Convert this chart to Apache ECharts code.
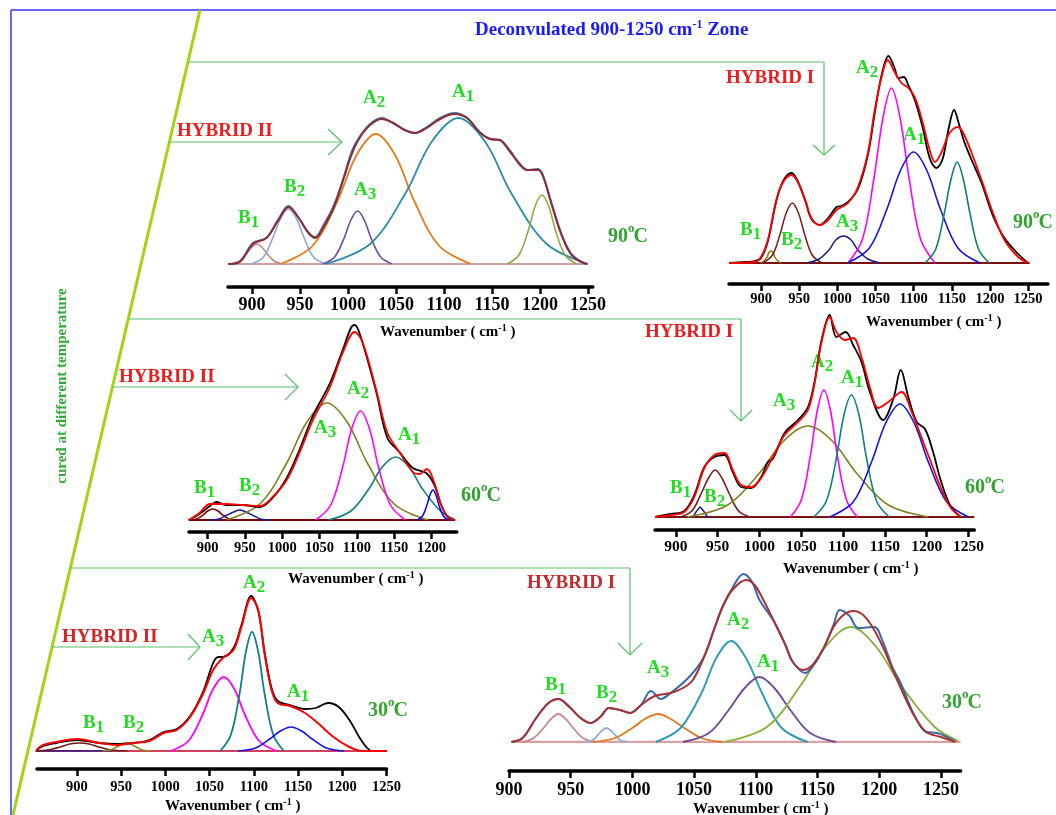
<!DOCTYPE html>
<html>
<head>
<meta charset="utf-8">
<script src="https://cdn.jsdelivr.net/npm/echarts@6/dist/echarts.min.js"></script>
<style>
  html, body { margin: 0; padding: 0; background: #fff; }
  #chart { width: 1056px; height: 815px; }
</style>
</head>
<body>
<div id="chart"></div>
<script>
// tick labels
const wnTicks = [900, 950, 1000, 1050, 1100, 1150, 1200, 1250];
const wnTicksShort = [900, 950, 1000, 1050, 1100, 1150, 1200];

// ---- HYBRID II, 90 C ----
const h2t90Obs = [[875,0],[887,2],[901,21],[915,26],[927,44],[938,58],[948,47],[959,31],[966,27],[974,38],[985,58],[995,85],[1004,113],[1012,127],[1023,140],[1035,146],[1047,141],[1059,134],[1070,131],[1082,137],[1096,146],[1111,151],[1124,146],[1137,132],[1148,125],[1158,124],[1169,113],[1179,99],[1187,94],[1198,95],[1203,89],[1211,64],[1222,31],[1232,11],[1243,2],[1249,0]];
const h2t90Fit = [[875,0],[887,2],[901,20],[915,26],[927,43],[938,57],[948,47],[959,31],[966,26],[974,36],[985,56],[995,84],[1004,110],[1012,126],[1023,139],[1035,145],[1047,141],[1059,134],[1070,131],[1082,136],[1096,145],[1111,150],[1124,146],[1137,132],[1148,125],[1158,124],[1169,112],[1179,100],[1187,94],[1198,94],[1203,88],[1211,63],[1222,30],[1232,10],[1243,2],[1249,0]];
const h2t90B1 = [[878,0],[887,3],[894,10],[900,17],[905,20],[910,17],[916,10],[923,3],[932,0]];
const h2t90B2 = [[899,0],[912,7],[922,27],[930,46],[938,55],[946,46],[954,27],[964,7],[977,0]];
const h2t90A3 = [[974,0],[986,7],[996,26],[1003,44],[1010,53],[1017,44],[1024,26],[1034,7],[1046,0]];
const h2t90A2 = [[930,0],[963,18],[989,63],[1009,109],[1029,130],[1049,109],[1069,63],[1095,18],[1128,0]];
const h2t90A1 = [[977,0],[1023,20],[1060,71],[1087,122],[1115,146],[1143,122],[1170,71],[1207,20],[1250,0]];
const h2t90C = [[1166,0],[1178,9],[1188,34],[1195,58],[1202,69],[1209,58],[1216,34],[1226,9],[1238,0]];

// ---- HYBRID I, 90 C ----
const h1t90Obs = [[858,0],[880,1],[892,2],[900,5],[909,22],[920,62],[929,82],[940,90],[948,82],[958,62],[966,44],[977,38],[988,45],[999,56],[1005,57],[1014,61],[1027,74],[1040,108],[1049,150],[1058,188],[1067,207],[1075,195],[1080,185],[1087,186],[1093,178],[1102,162],[1112,135],[1121,105],[1130,95],[1138,104],[1146,135],[1153,153],[1159,140],[1166,122],[1176,103],[1189,80],[1204,47],[1219,25],[1237,9],[1250,0]];
const h1t90Fit = [[858,0],[892,1],[900,6],[909,23],[920,63],[929,81],[940,88],[948,81],[958,63],[966,45],[977,38],[988,43],[999,53],[1014,60],[1027,76],[1040,110],[1049,153],[1058,186],[1066,203],[1075,191],[1084,180],[1093,175],[1102,165],[1112,140],[1121,113],[1128,101],[1136,110],[1147,130],[1158,136],[1165,130],[1176,110],[1189,83],[1204,50],[1219,23],[1237,6],[1250,0]];
const h1t90B1 = [[900,0],[904,2],[908,6],[910,10],[913,12],[916,10],[918,6],[922,2],[926,0]];
const h1t90B2 = [[902,0],[915,8],[925,29],[933,50],[941,60],[949,50],[957,29],[967,8],[980,0]];
const h1t90A3 = [[960,0],[976,4],[989,13],[998,23],[1008,27],[1018,23],[1027,13],[1040,4],[1056,0]];
const h1t90A2 = [[1014,0],[1033,24],[1048,85],[1060,146],[1071,175],[1082,146],[1094,85],[1109,24],[1128,0]];
const h1t90A1 = [[1013,0],[1042,15],[1065,54],[1083,93],[1100,111],[1117,93],[1135,54],[1158,15],[1187,0]];
const h1t90C = [[1115,0],[1129,14],[1140,49],[1149,84],[1157,101],[1165,84],[1174,49],[1185,14],[1199,0]];

// ---- HYBRID II, 60 C ----
const h2t60Obs = [[875,0],[889,6],[903,14],[912,18],[925,15],[947,15],[970,13],[987,22],[1006,42],[1023,70],[1041,104],[1064,137],[1081,170],[1092,192],[1097,195],[1104,186],[1126,128],[1141,82],[1157,68],[1175,52],[1193,47],[1204,35],[1213,15],[1222,3],[1231,0]];
const h2t60Fit = [[875,0],[889,7],[903,16],[925,16],[947,15],[970,14],[987,23],[1006,40],[1023,67],[1041,100],[1064,133],[1081,167],[1097,188],[1108,177],[1126,130],[1141,87],[1157,68],[1175,48],[1184,46],[1194,51],[1204,37],[1213,15],[1222,3],[1231,0]];
const h2t60B1 = [[874,0],[885,1],[894,5],[900,9],[907,11],[914,9],[920,5],[929,1],[940,0]];
const h2t60B2 = [[901,0],[915,1],[926,5],[935,8],[943,10],[951,8],[960,5],[971,1],[985,0]];
const h2t60A3 = [[925,0],[970,16],[1006,57],[1033,98],[1060,117],[1087,98],[1114,57],[1150,16],[1195,0]];
const h2t60A2 = [[1045,0],[1065,15],[1081,53],[1093,91],[1105,109],[1117,91],[1129,53],[1145,15],[1165,0]];
const h2t60A1 = [[1062,0],[1092,9],[1116,31],[1134,53],[1152,63],[1170,53],[1188,31],[1212,9],[1230,1]];
const h2t60C = [[1181,0],[1188,4],[1194,15],[1198,25],[1202,30],[1206,25],[1210,15],[1216,4],[1223,0]];

// ---- HYBRID I, 60 C ----
const h1t60Obs = [[875,0],[894,3],[910,6],[922,22],[934,50],[946,60],[958,62],[968,45],[978,30],[990,29],[1002,40],[1010,55],[1016,58],[1030,84],[1046,97],[1058,110],[1066,136],[1074,176],[1084,202],[1092,180],[1103,185],[1112,172],[1122,155],[1132,125],[1148,97],[1160,118],[1169,147],[1178,120],[1188,95],[1198,88],[1208,64],[1217,36],[1229,10],[1241,0]];
const h1t60Fit = [[875,0],[894,2],[910,5],[922,20],[934,49],[946,62],[958,64],[968,47],[978,32],[990,30],[1002,39],[1016,60],[1030,82],[1046,95],[1058,107],[1066,134],[1074,174],[1084,200],[1092,185],[1102,177],[1112,179],[1122,160],[1132,130],[1142,109],[1154,115],[1170,125],[1182,105],[1194,79],[1205,55],[1217,29],[1229,9],[1241,0]];
const h1t60B1 = [[917,0],[921,1],[924,5],[927,8],[929,10],[931,8],[934,5],[937,1],[941,0]];
const h1t60B2 = [[905,0],[919,6],[930,23],[939,39],[947,47],[955,39],[964,23],[975,6],[989,0]];
const h1t60A3 = [[914,0],[962,12],[1000,44],[1029,76],[1058,91],[1087,76],[1116,44],[1154,12],[1202,0]];
const h1t60A2 = [[1037,0],[1050,17],[1061,62],[1069,106],[1077,127],[1085,106],[1093,62],[1104,17],[1117,0]];
const h1t60A1 = [[1065,0],[1080,16],[1092,59],[1101,102],[1110,122],[1119,102],[1128,59],[1140,16],[1155,0]];
const h1t60C = [[1084,0],[1112,15],[1134,55],[1151,94],[1168,113],[1185,94],[1202,55],[1224,15],[1250,0]];

// ---- HYBRID II, 30 C ----
const h2t30Obs = [[853,0],[862,5],[877,8],[900,11],[926,8],[945,7],[964,8],[982,11],[998,19],[1013,22],[1028,35],[1043,60],[1054,88],[1060,94],[1065,94],[1077,103],[1086,126],[1097,155],[1105,140],[1112,100],[1120,63],[1127,50],[1141,46],[1158,42],[1170,43],[1184,48],[1196,44],[1208,31],[1219,14],[1228,3],[1234,0],[1250,0]];
const h2t30Fit = [[853,0],[862,6],[877,9],[900,12],[926,8],[945,6],[964,8],[982,10],[998,18],[1013,21],[1028,34],[1043,58],[1054,81],[1065,93],[1077,101],[1086,124],[1097,153],[1105,141],[1112,98],[1120,61],[1127,48],[1141,45],[1156,39],[1171,29],[1190,14],[1208,4],[1223,0],[1250,0]];
const h2t30B1 = [[855,0],[867,1],[881,4],[892,7],[903,8],[914,7],[925,4],[939,1],[957,0]];
const h2t30B2 = [[929,0],[938,1],[945,4],[951,7],[956,8],[961,7],[967,4],[974,1],[983,0]];
const h2t30A3 = [[1006,0],[1026,10],[1042,36],[1054,62],[1066,74],[1078,62],[1090,36],[1106,10],[1126,0]];
const h2t30A2 = [[1062,0],[1074,16],[1084,58],[1091,99],[1098,119],[1105,99],[1112,58],[1122,16],[1134,0]];
const h2t30A1 = [[1082,0],[1102,3],[1118,12],[1130,20],[1142,24],[1154,20],[1166,12],[1182,3],[1202,0]];

// ---- HYBRID I, 30 C ----
const h1t30Obs = [[902,0],[911,4],[922,24],[932,39],[940,43],[949,35],[958,24],[966,19],[974,25],[981,34],[990,32],[998,29],[1007,37],[1015,51],[1023,43],[1031,49],[1046,65],[1058,85],[1066,112],[1073,135],[1081,154],[1090,168],[1097,160],[1103,142],[1115,120],[1124,97],[1130,80],[1140,69],[1147,77],[1155,94],[1163,117],[1168,132],[1176,126],[1183,114],[1196,115],[1203,100],[1211,74],[1217,60],[1228,28],[1238,10],[1247,9],[1261,1]];
const h1t30Fit = [[902,0],[911,4],[922,24],[932,39],[940,43],[949,35],[958,24],[966,19],[974,25],[981,34],[990,32],[998,29],[1007,37],[1018,46],[1031,49],[1041,54],[1049,62],[1058,85],[1066,112],[1073,135],[1081,152],[1092,162],[1099,157],[1107,140],[1115,120],[1124,97],[1130,80],[1138,72],[1146,77],[1155,94],[1163,115],[1171,127],[1179,131],[1187,127],[1195,114],[1203,95],[1211,72],[1220,47],[1228,27],[1238,10],[1250,5],[1262,0]];
const h1t30B1 = [[911,0],[920,4],[928,14],[934,23],[940,28],[946,23],[952,14],[960,4],[969,0]];
const h1t30B2 = [[962,0],[968,2],[972,7],[976,12],[979,14],[982,12],[986,7],[990,2],[996,0]];
const h1t30A3 = [[968,0],[986,4],[1000,14],[1010,23],[1021,28],[1031,23],[1042,14],[1056,4],[1073,0]];
const h1t30A2 = [[1019,0],[1039,14],[1056,49],[1068,84],[1080,101],[1092,84],[1105,49],[1121,14],[1142,0]];
const h1t30A1 = [[1041,0],[1062,9],[1078,32],[1091,54],[1103,65],[1115,54],[1128,32],[1144,9],[1165,0]];
const h1t30C = [[1075,0],[1109,15],[1136,56],[1157,96],[1177,115],[1197,96],[1218,56],[1245,15],[1264,1]];

const H = 215;
const serif = 'Liberation Serif';

function baseLine(from, to) {
  return [[from, 0], [to, 0]];
}

const panels = [
  { left: 228, base: 264, axisY: 287, min: 875, max: 1255, scale: 0.96, ticks: wnTicks, size: 18, margin: 9,
    curves: [
      [baseLine(875, 1250), '#cfa0a0', 2],
      [h2t90B1, '#c48a8a', 1.6], [h2t90B2, '#8fa8d2', 1.6], [h2t90A3, '#6c4c9c', 1.6],
      [h2t90A2, '#e27c1e', 1.8], [h2t90A1, '#2d8bab', 1.8], [h2t90C, '#8caa3e', 1.6],
      [h2t90Obs, '#3f72b0', 2], [h2t90Fit, '#8e2e34', 2]
    ] },
  { left: 729, base: 263, axisY: 284, min: 858, max: 1276, scale: 0.763, ticks: wnTicks, size: 14.5, margin: 8,
    curves: [
      [baseLine(858, 1252), '#7a1212', 2],
      [h1t90B1, '#808000', 1.5], [h1t90B2, '#7a1e1e', 1.5], [h1t90A3, '#1c1c80', 1.5],
      [h1t90A2, '#ff00ff', 1.6], [h1t90A1, '#1414e6', 1.6], [h1t90C, '#0e7c7c', 1.6],
      [h1t90Obs, '#000000', 1.8], [h1t90Fit, '#ff0000', 1.8]
    ] },
  { left: 189, base: 520, axisY: 532, min: 875, max: 1234, scale: 0.746, ticks: wnTicksShort, size: 14.5, margin: 9,
    curves: [
      [baseLine(875, 1232), '#800000', 2],
      [h2t60B1, '#800000', 1.5], [h2t60B2, '#1a1a99', 1.5], [h2t60A3, '#7f7f1e', 1.6],
      [h2t60A2, '#ff00ff', 1.6], [h2t60A1, '#0f7f7f', 1.6], [h2t60C, '#0000ff', 1.5],
      [h2t60Obs, '#000000', 1.8], [h2t60Fit, '#ff0000', 1.8]
    ] },
  { left: 655, base: 517, axisY: 530, min: 875, max: 1257, scale: 0.836, ticks: wnTicks, size: 15.5, margin: 9,
    curves: [
      [baseLine(875, 1257), '#7a1212', 2],
      [h1t60B1, '#14148c', 1.5], [h1t60B2, '#7a1e1e', 1.6], [h1t60A3, '#808020', 1.6],
      [h1t60A2, '#ff00ff', 1.6], [h1t60A1, '#118080', 1.6], [h1t60C, '#1010f0', 1.6],
      [h1t60Obs, '#000000', 1.8], [h1t60Fit, '#ff0000', 1.8]
    ] },
  { left: 37, base: 751, axisY: 769, min: 855, max: 1250, scale: 0.885, ticks: wnTicks, size: 14.5, margin: 11,
    curves: [
      [baseLine(853, 1250), '#d04060', 2.2], [baseLine(855, 940), '#14148c', 1.6],
      [h2t30B1, '#6b1818', 1.6], [h2t30B2, '#8a8a1a', 1.6], [h2t30A3, '#ff00ff', 1.8],
      [h2t30A2, '#108080', 1.8], [h2t30A1, '#1010f0', 1.6],
      [h2t30Obs, '#000000', 1.8], [h2t30Fit, '#ff0000', 2]
    ] },
  { left: 509, base: 742, axisY: 771, min: 900, max: 1266, scale: 1.234, ticks: wnTicks, size: 18, margin: 10,
    curves: [
      [baseLine(902, 1266), '#dca0a0', 2.4],
      [h1t30B1, '#c88a8a', 1.8], [h1t30B2, '#94aedb', 1.8], [h1t30A3, '#e07a22', 1.8],
      [h1t30A2, '#2e9ab4', 1.9], [h1t30A1, '#6e4e96', 1.9], [h1t30C, '#88b03c', 1.9],
      [h1t30Obs, '#3a6aa8', 2], [h1t30Fit, '#a83232', 2]
    ] }
];

const grids = [], xAxes = [], yAxes = [], series = [];
panels.forEach((p, i) => {
  grids.push({ left: p.left, top: p.base - H, width: (p.max - p.min) * p.scale, height: H });
  xAxes.push({
    type: 'value', gridIndex: i, min: p.min, max: p.max, position: 'bottom',
    offset: p.axisY - p.base,
    splitLine: { show: false },
    axisLine: { show: true, onZero: false, lineStyle: { color: '#000', width: 3.5 } },
    axisTick: { show: true, customValues: p.ticks, length: 7, lineStyle: { color: '#000', width: 2.5 } },
    axisLabel: { show: true, customValues: p.ticks, margin: p.margin, color: '#000',
      fontFamily: serif, fontWeight: 'bold', fontSize: p.size,
      formatter: (v) => String(v) }
  });
  yAxes.push({ type: 'value', gridIndex: i, min: 0, max: H, show: false });
  p.curves.forEach(([data, color, width]) => {
    series.push({
      type: 'line', xAxisIndex: i, yAxisIndex: i, data: data,
      symbol: 'none', smooth: 0.35, silent: true,
      lineStyle: { color: color, width: width }
    });
  });
});

// ---- annotations ----
const green = '#22dd22';
const tempGreen = '#30a630';
const arrowGreen = '#5cbf6a';

function line(x1, y1, x2, y2, stroke, w) {
  return { type: 'line', shape: { x1, y1, x2, y2 }, style: { stroke, lineWidth: w }, silent: true };
}
function head(pts) {
  return { type: 'polyline', shape: { points: pts }, style: { stroke: arrowGreen, lineWidth: 1.2, fill: null }, silent: true };
}
function txt(x, y, text, size, color) {
  return { type: 'text', x, y, silent: true,
    style: { text, fill: color, fontFamily: serif, fontWeight: 'bold', fontSize: size, align: 'left', verticalAlign: 'middle' } };
}
function tok(size, lh, va, color) {
  return { fontFamily: serif, fontWeight: 'bold', fontSize: size, lineHeight: lh, verticalAlign: va, fill: color };
}
function rich(x, y, text, richStyles) {
  return { type: 'text', x, y, silent: true,
    style: { text, rich: richStyles, align: 'left', verticalAlign: 'middle' } };
}
// letter + lowered index, as two pieces
function peak(x, y, letter, sub) {
  const w = letter === 'A' ? 13.7 : 12.7;
  return [txt(x, y, letter, 19, green), txt(x + w, y + 5, sub, 17, green)];
}
function temp(x, y, num) {
  return [txt(x, y, num, 20, tempGreen), txt(x + 20, y - 8, 'o', 13, tempGreen), txt(x + 25.5, y, 'C', 20, tempGreen)];
}
function waveName(x, y) {
  return rich(x, y, '{m|Wavenumber ( cm}{s|-1}{m| )}', { m: tok(15, 18, 'middle', '#000'), s: tok(10, 4, 'top', '#000') });
}
function diagX(y) { return 200 - 0.2323 * (y - 10); }

const graphics = [
  line(11, 10, 1056, 10, '#3535ff', 1.5),
  line(11, 10, 11, 815, '#3535ff', 1.5),
  line(200, 10, 13, 815, '#a2d414', 3),
  // top row
  line(diagX(62), 62, 824, 62, arrowGreen, 1.2), line(824, 62, 824, 155, arrowGreen, 1.2),
  head([[813, 145], [824, 155], [835, 145]]),
  line(diagX(142), 142, 342, 142, arrowGreen, 1.2), head([[328, 129], [342, 142], [328, 155]]),
  // middle row
  line(diagX(319), 319, 741, 319, arrowGreen, 1.2), line(741, 319, 741, 421, arrowGreen, 1.2),
  head([[730, 410], [741, 421], [752, 410]]),
  line(diagX(387), 387, 298, 387, arrowGreen, 1.2), head([[285, 374], [298, 387], [285, 400]]),
  // bottom row
  line(diagX(568), 568, 630, 568, arrowGreen, 1.2), line(630, 568, 630, 655, arrowGreen, 1.2),
  head([[618, 643], [630, 655], [642, 643]]),
  line(diagX(647), 647, 200, 647, arrowGreen, 1.2), head([[188, 634], [200, 647], [188, 660]]),

  rich(475, 30, '{m|Deconvulated 900-1250 cm}{s|-1}{m| Zone}', { m: tok(19, 22, 'middle', '#1a1aff'), s: tok(12, 12, 'top', '#1a1aff') }),
  { type: 'text', x: 62, y: 386, rotation: Math.PI / 2, silent: true,
    style: { text: 'cured at different temperature', fill: '#33aa33', fontFamily: serif, fontWeight: 'bold',
      fontSize: 15, align: 'center', verticalAlign: 'middle' } },

  txt(177, 131, 'HYBRID II', 19, '#ee1c1c'), txt(726, 78, 'HYBRID I', 19, '#ee1c1c'),
  txt(119, 377, 'HYBRID II', 19, '#ee1c1c'), txt(645, 332, 'HYBRID I', 19, '#ee1c1c'),
  txt(62, 637, 'HYBRID II', 19, '#d82222'), txt(527, 583, 'HYBRID I', 19, '#c8282c'),

  ...temp(608, 237, '90'), ...temp(1013, 223, '90'), ...temp(461, 496, '60'),
  ...temp(965, 488, '60'), ...temp(368, 711, '30'), ...temp(942, 703, '30'),

  waveName(380, 332), waveName(866, 322), waveName(288, 579),
  waveName(783, 569), waveName(165, 806), waveName(693, 809),

  ...peak(238, 218, 'B', '1'), ...peak(284, 187, 'B', '2'), ...peak(354, 190, 'A', '3'), ...peak(363, 98, 'A', '2'), ...peak(452, 92, 'A', '1'),
  ...peak(740, 230, 'B', '1'), ...peak(781, 240, 'B', '2'), ...peak(836, 222, 'A', '3'), ...peak(856, 68, 'A', '2'), ...peak(903, 135, 'A', '1'),
  ...peak(194, 488, 'B', '1'), ...peak(239, 486, 'B', '2'), ...peak(314, 428, 'A', '3'), ...peak(347, 389, 'A', '2'), ...peak(398, 435, 'A', '1'),
  ...peak(670, 488, 'B', '1'), ...peak(704, 497, 'B', '2'), ...peak(773, 401, 'A', '3'), ...peak(811, 362, 'A', '2'), ...peak(841, 378, 'A', '1'),
  ...peak(83, 723, 'B', '1'), ...peak(123, 723, 'B', '2'), ...peak(202, 637, 'A', '3'), ...peak(243, 583, 'A', '2'), ...peak(287, 692, 'A', '1'),
  ...peak(545, 685, 'B', '1'), ...peak(596, 693, 'B', '2'), ...peak(647, 668, 'A', '3'), ...peak(727, 620, 'A', '2'), ...peak(757, 662, 'A', '1')
];

const chart = echarts.init(document.getElementById('chart'), null, { renderer: 'canvas' });
chart.setOption({
  animation: false,
  backgroundColor: '#ffffff',
  grid: grids,
  xAxis: xAxes,
  yAxis: yAxes,
  series: series,
  graphic: graphics
});
</script>
</body>
</html>
